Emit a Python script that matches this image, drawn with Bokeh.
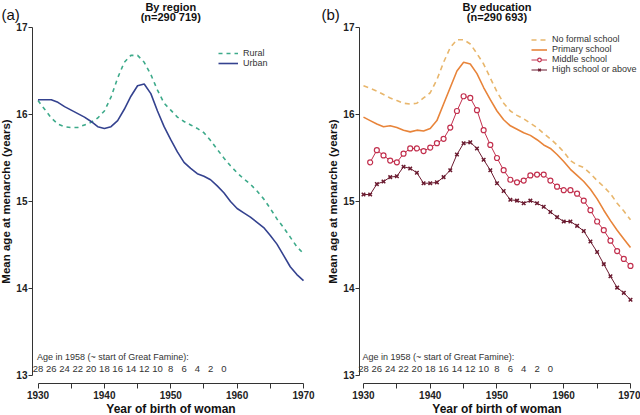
from bokeh.plotting import figure
from bokeh.layouts import row
from bokeh.models import Range1d, FixedTicker, Label, Legend, LegendItem
from bokeh.core.properties import value
from bokeh.embed import file_html
from bokeh.resources import INLINE

# ---------------- data ----------------
years = list(range(1930, 1971))

rural = [16.16, 16.06, 15.96, 15.89, 15.86, 15.85, 15.85, 15.88, 15.91, 15.96,
         16.04, 16.20, 16.42, 16.60, 16.68, 16.68, 16.60, 16.46, 16.28, 16.13,
         16.05, 15.97, 15.92, 15.88, 15.84, 15.79, 15.70, 15.60, 15.50, 15.41,
         15.33, 15.26, 15.20, 15.12, 15.03, 14.92, 14.80, 14.70, 14.59, 14.48,
         14.40]
urban = [16.17, 16.17, 16.17, 16.14, 16.09, 16.05, 16.01, 15.97, 15.92, 15.86,
         15.84, 15.86, 15.93, 16.06, 16.21, 16.33, 16.35, 16.24, 16.04, 15.86,
         15.71, 15.57, 15.45, 15.38, 15.32, 15.29, 15.25, 15.18, 15.10, 15.00,
         14.92, 14.87, 14.82, 14.76, 14.70, 14.61, 14.51, 14.38, 14.25, 14.16,
         14.09]

no_formal = [16.33, 16.30, 16.27, 16.23, 16.19, 16.16, 16.13, 16.12, 16.13, 16.19,
             16.25, 16.40, 16.60, 16.77, 16.86, 16.86, 16.81, 16.70, 16.58, 16.42,
             16.26, 16.13, 16.04, 15.99, 15.95, 15.90, 15.85, 15.78, 15.72, 15.65,
             15.57, 15.47, 15.42, 15.39, 15.32, 15.24, 15.17, 15.09, 14.98, 14.89,
             14.79]
primary = [15.97, 15.93, 15.89, 15.86, 15.87, 15.85, 15.82, 15.80, 15.82, 15.81,
           15.84, 15.93, 16.12, 16.31, 16.50, 16.60, 16.58, 16.47, 16.31, 16.17,
           16.04, 15.94, 15.87, 15.83, 15.79, 15.76, 15.71, 15.65, 15.61, 15.54,
           15.46, 15.37, 15.30, 15.23, 15.14, 15.03, 14.90, 14.78, 14.67, 14.57,
           14.47]
middle_years = list(range(1931, 1971))
middle = [15.45, 15.59, 15.53, 15.47, 15.45, 15.55, 15.61, 15.61, 15.58,
          15.62, 15.67, 15.72, 15.85, 16.04, 16.21, 16.19, 16.05, 15.82, 15.65,
          15.50, 15.36, 15.25, 15.22, 15.24, 15.30, 15.31, 15.31, 15.24, 15.17,
          15.13, 15.13, 15.09, 15.01, 14.90, 14.77, 14.67, 14.55, 14.43, 14.34,
          14.26]
high = [15.08, 15.08, 15.20, 15.23, 15.28, 15.29, 15.40, 15.38, 15.33, 15.21,
        15.21, 15.22, 15.28, 15.36, 15.54, 15.67, 15.68, 15.61, 15.48, 15.36,
        15.21, 15.12, 15.02, 15.01, 14.98, 15.01, 14.98, 14.94, 14.88, 14.82,
        14.77, 14.77, 14.72, 14.66, 14.54, 14.42, 14.28, 14.14, 14.01, 13.95,
        13.87]

famine_year = 1958
ages_in_1958 = [28, 26, 24, 22, 20, 18, 16, 14, 12, 10, 8, 6, 4, 2, 0]
x_major_ticks = [1930, 1940, 1950, 1960, 1970]
x_minor_ticks = [1935, 1945, 1955, 1965]
y_ticks = [13, 14, 15, 16, 17]

# ---------------- style ----------------
FONT = "Liberation Sans"
W, H = 320, 415
Y_START, Y_END = 12.5402, 17.3103
X_AXIS_AT = 12.908
AXIS_COLOR = "#333333"

C_RURAL = "#3DAA8A"
C_URBAN = "#34428F"
C_NOFORMAL = "#E8B66C"
C_PRIMARY = "#E8843A"
C_MIDDLE = "#C2304E"
C_HIGH = "#6B1B30"


def make_panel(letter, title1, title2, x_start, x_end, y_axis_at, letter_x):
    p = figure(width=W, height=H, output_backend="svg", toolbar_location=None,
               title=None, x_range=Range1d(x_start, x_end),
               y_range=Range1d(Y_START, Y_END),
               min_border=0, min_border_top=0, min_border_bottom=0,
               min_border_left=0, min_border_right=0)
    p.outline_line_color = None
    p.grid.visible = False
    p.background_fill_color = "white"
    p.border_fill_color = "white"

    xa = p.xaxis[0]
    xa.ticker = FixedTicker(ticks=x_major_ticks, minor_ticks=x_minor_ticks)
    xa.bounds = (x_major_ticks[0], x_major_ticks[-1])
    xa.fixed_location = X_AXIS_AT
    ya = p.yaxis[0]
    ya.ticker = FixedTicker(ticks=y_ticks, minor_ticks=[])
    ya.bounds = (y_ticks[0], y_ticks[-1])
    ya.fixed_location = y_axis_at
    for ax in (xa, ya):
        ax.axis_line_color = AXIS_COLOR
        ax.major_tick_line_color = AXIS_COLOR
        ax.minor_tick_line_color = AXIS_COLOR
        ax.major_tick_in = 0
        ax.major_tick_out = 5
        ax.minor_tick_in = 0
        ax.minor_tick_out = 5
        ax.major_label_text_font = FONT
        ax.major_label_text_font_size = "10px"
        ax.major_label_text_font_style = "bold"
        ax.major_label_text_color = "#222222"
        ax.axis_label_text_font = FONT
        ax.axis_label_text_font_style = "bold"
        ax.axis_label_text_color = "#111111"
    ya.minor_tick_out = 0
    ya.major_tick_out = 4
    ya.major_label_standoff = 1
    ya.axis_label_standoff = 1
    ya.axis_label_text_font_size = "11.5px"
    xa.major_label_standoff = 2
    xa.axis_label_standoff = 0
    xa.axis_label_text_font_size = "12px"
    xa.axis_label = "Year of birth of woman"
    ya.axis_label = "Mean age at menarche (years)"

    mid_x = (x_major_ticks[0] + x_major_ticks[-1]) / 2
    p.add_layout(Label(x=mid_x, y=17.241, text=title1, text_align="center",
                       text_baseline="middle", text_font=FONT,
                       text_font_size="11px", text_font_style="bold",
                       text_color="#111111"))
    p.add_layout(Label(x=mid_x, y=17.126, text=title2, text_align="center",
                       text_baseline="middle", text_font=FONT,
                       text_font_size="11px", text_font_style="bold",
                       text_color="#111111"))
    p.add_layout(Label(x=letter_x, x_units="screen", y=17.15, text=letter,
                       text_align="left", text_baseline="middle",
                       text_font=FONT, text_font_size="15px",
                       text_color="#111111"))

    # age in 1958 scale
    age_x = [famine_year - a for a in ages_in_1958]
    p.text(x=age_x, y=[13.069] * len(age_x), text=[str(a) for a in ages_in_1958],
           text_align="center", text_baseline="middle",
           text_font=value(FONT), text_font_size="9.5px", text_color="#333333")
    p.add_layout(Label(x=age_x[0], y=13.207, x_offset=-1,
                       text="Age in 1958 (~ start of Great Famine):",
                       text_align="left", text_baseline="middle",
                       text_font=FONT, text_font_size="9px",
                       text_color="#333333"))
    return p


def style_legend(lg, x, y, row_h, glyph_w):
    lg.location = (x, y)
    lg.background_fill_alpha = 0
    lg.border_line_color = None
    lg.padding = 0
    lg.margin = 0
    lg.spacing = 0
    lg.label_height = row_h
    lg.glyph_height = row_h
    lg.glyph_width = glyph_w
    lg.label_standoff = 5
    lg.label_text_font = FONT
    lg.label_text_font_size = "9px"
    lg.label_text_color = "#333333"


# ---------------- panel (a) ----------------
pa = make_panel("(a)", "By region", "(n=290 719)", 1924.35, 1972.56, 1929.17, 1)
r_rural = pa.line(years, rural, line_color=C_RURAL, line_width=1.6,
                  line_dash="4 4")
r_urban = pa.line(years, urban, line_color=C_URBAN, line_width=1.6)
lg_a = Legend(items=[LegendItem(label="Rural", renderers=[r_rural]),
                     LegendItem(label="Urban", renderers=[r_urban])])
style_legend(lg_a, 218, 347, 10, 20)
pa.add_layout(lg_a)

# ---------------- panel (b) ----------------
pb = make_panel("(b)", "By education", "(n=290 693)", 1923.56, 1971.50, 1929.40, 1)
r_nf = pb.line(years, no_formal, line_color=C_NOFORMAL, line_width=1.6,
               line_dash="5 4")
r_pr = pb.line(years, primary, line_color=C_PRIMARY, line_width=1.6)
r_mid_l = pb.line(middle_years, middle, line_color=C_MIDDLE, line_width=1)
r_mid_s = pb.scatter(middle_years, middle, marker="circle", size=5,
                     line_color=C_MIDDLE, fill_color="white", line_width=1.2)
r_hi_l = pb.line(years, high, line_color=C_HIGH, line_width=1)
r_hi_s = pb.scatter(years, high, marker="x", size=5, line_color=C_HIGH,
                    line_width=1.5)
lg_b = Legend(items=[
    LegendItem(label="No formal school", renderers=[r_nf]),
    LegendItem(label="Primary school", renderers=[r_pr]),
    LegendItem(label="Middle school", renderers=[r_mid_l, r_mid_s]),
    LegendItem(label="High school or above", renderers=[r_hi_l, r_hi_s]),
])
style_legend(lg_b, 211, 341, 9, 16)
pb.add_layout(lg_b)

layout = row(pa, pb)
open("out.html", "w").write(file_html(layout, INLINE))
